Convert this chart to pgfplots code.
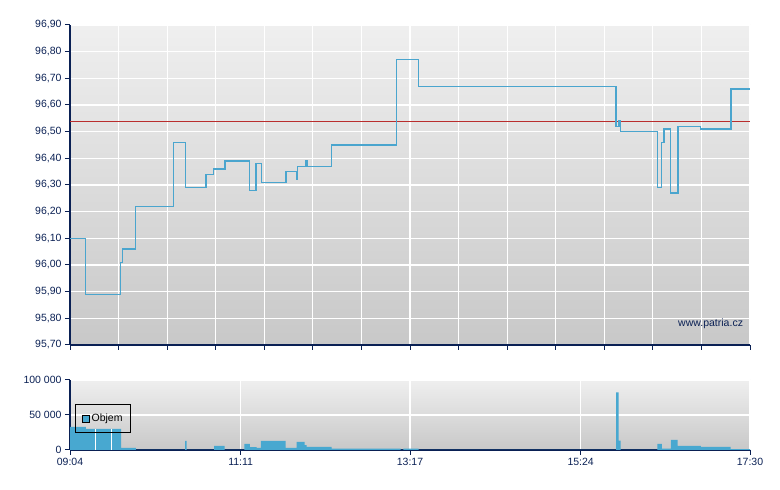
\documentclass[border=0pt]{standalone}
\usepackage{pgfplots}
\pgfplotsset{compat=1.18}
\usepackage{fontspec}
\setmainfont{Liberation Sans}

\definecolor{navy}{RGB}{10,32,84}
\definecolor{lineblue}{RGB}{74,165,206}
\definecolor{barblue}{RGB}{72,168,208}
\definecolor{bgtop}{RGB}{239,239,239}
\definecolor{bgbot}{RGB}{200,200,200}
\definecolor{refred}{RGB}{185,45,45}

\pgfplotsset{
  patria/.style={
    scale only axis,
    xmin=0, xmax=506,
    axis x line*=bottom, axis y line*=left,
    axis line style={navy, line width=1.2pt, -},
    tick style={navy, line width=1pt},
    tick align=outside, major tick length=5pt,
    grid=major, major grid style={white, line width=1.2pt},
    axis background/.style={top color=bgtop, bottom color=bgbot},
    tick label style={font=\fontsize{10.5}{12}\selectfont, text=navy},
    /pgf/number format/assume math mode=true,
    scaled y ticks=false,
    clip=false,
  }
}

\begin{document}
\begin{tikzpicture}
\path[draw=none] (0pt,0pt) rectangle (780pt,490pt);

% price panel
\begin{axis}[patria,
  at={(70pt,145pt)}, anchor=south west,
  width=680pt, height=320pt,
  ymin=95.7, ymax=96.9,
  ytick={95.7,95.8,...,96.95},
  xtick={0,36.142857,...,506.1},
  xticklabels={},
  yticklabel style={/pgf/number format/.cd, fixed, fixed zerofill, precision=2, use comma},
]
\addplot[refred, line width=0.8pt] coordinates {(0,96.54) (506,96.54)};
\addplot[const plot, lineblue, line width=1.5pt] coordinates {
  (0,96.10) (11.7,95.89) (37.4,96.01) (38.9,96.06) (48.6,96.22)
  (77.2,96.46) (85.8,96.29) (101.2,96.34) (106.6,96.36) (115.3,96.39)
  (133.4,96.28) (138.4,96.38) (142.4,96.31) (160.7,96.35) (168.7,96.32)
  (169.4,96.37) (175.4,96.39) (176.4,96.37) (194.4,96.45) (242.8,96.77)
  (259.2,96.67) (406.1,96.52) (408.5,96.54) (409.8,96.50) (437.0,96.29)
  (440.0,96.46) (442.0,96.51) (447.0,96.27) (452.4,96.52) (469.0,96.51)
  (491.9,96.66) (506,96.66)
};
\node[anchor=south east, text=navy, font=\fontsize{10.5}{12}\selectfont, inner sep=0pt]
  at (rel axis cs:0.99,0.05) {www.patria.cz};
\end{axis}

% volume panel
\begin{axis}[patria,
  at={(70pt,40pt)}, anchor=south west,
  width=680pt, height=70pt,
  ymin=0, ymax=100000,
  ytick={0,50000,100000},
  yticklabels={0,50 000,100 000},
  xtick={0,127,253,380,506},
  xticklabels={09:04,11:11,13:17,15:24,17:30},
  legend style={at={(rel axis cs:0.008,0.65)}, anchor=north west,
    draw=black, line width=0.8pt, fill=none,
    font=\fontsize{10.5}{12}\selectfont, inner xsep=6pt, inner ysep=7pt},
  legend image code/.code={\draw[fill=barblue, draw=black, line width=0.8pt] (0pt,-3.5pt) rectangle (7pt,3.5pt);},
]
\addplot[const plot, fill=barblue, draw=none] coordinates {
  (0,33000) (11.9,30200) (18.8,30000) (30.5,30000) (38.0,3000) (49.1,0)
  (85.6,13000) (86.7,0) (107.2,6000) (115.1,0) (129.7,8600) (133.9,4000)
  (138.9,2900) (142.1,13000) (160.5,3000) (168.7,11500) (174.6,7000)
  (176.1,4300) (194.7,1800) (246.1,0) (248.0,1800) (259.5,0)
  (406.3,82400) (408.3,13400) (409.8,0) (437.0,8600) (440.5,1900)
  (447.2,14400) (452.2,5800) (469.5,4300) (491.6,1400) (506,0)
} \closedcycle;
\addlegendentry{Objem}
\addplot[ycomb, white, line width=0.8pt, forget plot] coordinates {(18.8,30000) (30.5,30000)};
\end{axis}
\end{tikzpicture}
\end{document}
